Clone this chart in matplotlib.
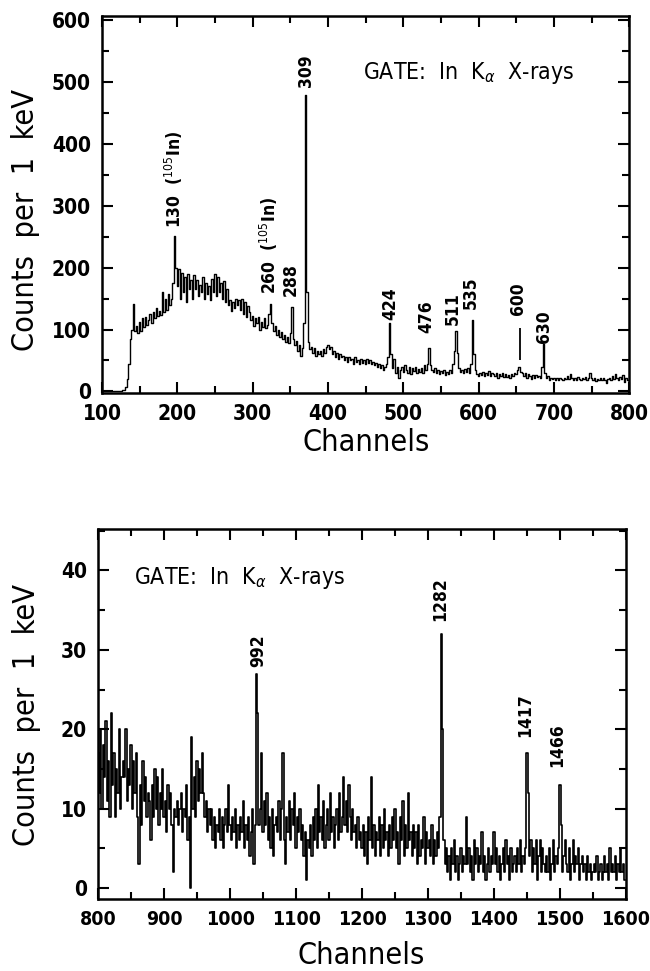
import numpy as np
import matplotlib
matplotlib.use('Agg')
import matplotlib.pyplot as plt
from matplotlib.ticker import MultipleLocator

plt.rcParams['font.family'] = ['DejaVu Sans']
plt.rcParams['font.stretch'] = 'condensed'
plt.rcParams['mathtext.fontset'] = 'dejavusans'

# ---- spectrum 1: channels 100..798 (2 ch per bin), In K-alpha gate
ch_top = np.arange(100, 800, 2)
cnt_top = [
    0, 0, 0, 0, 0, 1, 0, 0, 1, 0, 0, 1, 1, 1, 2, 3, 7, 20, 45, 85,                          # 100
    100, 142, 98, 105, 95, 112, 98, 118, 104, 120, 108, 115, 126, 110, 128, 118, 135, 122, 130, 124,  # 140
    160, 128, 150, 132, 158, 140, 150, 175, 252, 200, 170, 198, 150, 192, 160, 185, 145, 190, 165, 180,  # 180
    150, 188, 165, 180, 155, 172, 160, 185, 150, 175, 158, 170, 148, 182, 160, 190, 155, 185, 160, 175,  # 220
    150, 178, 145, 165, 140, 148, 130, 145, 135, 150, 140, 148, 132, 150, 125, 145, 120, 138, 128, 115,  # 260
    122, 105, 118, 110, 120, 100, 112, 104, 118, 102, 108, 125, 142, 110, 98, 105, 92, 100, 88, 96,      # 300
    85, 92, 80, 88, 78, 95, 136, 85, 75, 82, 65, 75, 58, 70, 110, 480, 160, 80, 68, 72,                  # 340
    62, 70, 58, 66, 60, 65, 58, 68, 62, 72, 75, 68, 72, 60, 65, 55, 62, 52, 60, 55,                      # 380
    58, 50, 56, 48, 55, 50, 52, 45, 55, 48, 50, 45, 52, 46, 50, 44, 52, 46, 50, 44,                      # 420
    48, 42, 46, 40, 45, 38, 42, 35, 40, 45, 55, 110, 60, 38, 52, 30, 40, 22, 35, 40,                     # 460
    32, 42, 35, 30, 40, 28, 38, 33, 40, 30, 36, 32, 38, 30, 42, 35, 45, 70, 42, 35,                      # 500
    32, 38, 30, 35, 28, 33, 30, 35, 26, 32, 28, 34, 30, 45, 65, 97, 62, 38, 32, 35,                      # 540
    30, 36, 32, 38, 30, 45, 115, 60, 35, 28, 25, 30, 26, 32, 25, 30, 27, 33, 25, 30,                     # 580
    28, 25, 30, 22, 28, 25, 30, 24, 28, 23, 27, 22, 28, 25, 30, 28, 35, 40, 32, 30,                      # 620
    25, 30, 22, 28, 25, 20, 26, 22, 27, 23, 25, 22, 40, 77, 30, 22, 25, 18, 22, 20,                      # 660
    22, 18, 21, 19, 22, 20, 18, 22, 20, 25, 20, 28, 21, 18, 22, 19, 23, 20, 18, 22,                      # 700
    20, 24, 19, 21, 30, 22, 18, 21, 17, 20, 19, 22, 18, 21, 19, 14, 20, 22, 18, 25,                      # 740
    20, 28, 22, 18, 24, 20, 26, 16, 22, 18,                                                              # 780
]

# ---- spectrum 2: channels 800..1598 (2 ch per bin)
ch_bot = np.arange(800, 1600, 2)
cnt_bot = [
    17, 12, 20, 10, 18, 14, 21, 11, 16, 9, 22, 13, 17, 9, 15, 12, 20, 10, 14, 16,      # 800
    14, 20, 11, 15, 13, 18, 10, 16, 12, 17, 9, 3, 13, 8, 16, 11, 14, 9, 12, 11,        # 840
    6, 13, 9, 15, 10, 14, 8, 12, 10, 15, 9, 11, 7, 13, 10, 12, 8, 2, 10, 9,            # 880
    11, 8, 10, 12, 7, 10, 9, 13, 6, 9, 0, 19, 10, 14, 9, 16, 11, 15, 12, 17,           # 920
    12, 9, 11, 7, 10, 8, 10, 6, 9, 5, 8, 7, 10, 6, 9, 5, 8, 10, 7, 13,                 # 960
    8, 6, 9, 7, 10, 5, 8, 6, 9, 7, 11, 5, 8, 6, 9, 4, 7, 10, 3, 8,                     # 1000
    27, 22, 8, 10, 17, 7, 11, 8, 12, 6, 9, 5, 10, 4, 8, 9, 7, 11, 6, 10,               # 1040
    17, 6, 3, 9, 7, 11, 6, 10, 8, 12, 5, 9, 7, 10, 6, 8, 4, 7, 1, 6,                   # 1080
    5, 8, 4, 9, 6, 10, 5, 13, 7, 9, 6, 11, 5, 8, 10, 6, 12, 7, 9, 5,                   # 1120
    8, 10, 6, 12, 7, 9, 14, 8, 11, 7, 13, 9, 6, 10, 7, 8, 5, 9, 6, 7,                  # 1160
    5, 8, 4, 7, 3, 9, 6, 14, 5, 8, 4, 7, 6, 9, 4, 8, 5, 10, 6, 7,                      # 1200
    4, 8, 5, 9, 6, 10, 5, 7, 3, 9, 6, 11, 4, 8, 5, 12, 6, 7, 4, 8,                     # 1240
    5, 7, 3, 8, 4, 6, 5, 9, 3, 7, 5, 6, 4, 8, 3, 6, 4, 7, 5, 9,                        # 1280
    32, 20, 6, 3, 5, 2, 4, 1, 5, 3, 6, 2, 4, 1, 3, 5, 2, 4, 3, 9,                      # 1320
    3, 5, 2, 4, 1, 6, 3, 5, 2, 4, 3, 7, 2, 4, 1, 3, 5, 2, 4, 3,                        # 1360
    7, 3, 5, 2, 4, 1, 3, 5, 2, 6, 3, 4, 1, 5, 2, 3, 4, 2, 5, 3,                        # 1400
    6, 2, 4, 3, 5, 17, 12, 4, 6, 2, 5, 3, 6, 1, 4, 6, 2, 5, 3, 2,                      # 1440
    4, 2, 5, 1, 3, 6, 2, 4, 3, 5, 13, 8, 2, 4, 6, 3, 2, 5, 1, 3,                       # 1480
    6, 2, 4, 3, 5, 1, 3, 4, 2, 3, 1, 4, 2, 3, 1, 2, 3, 2, 4, 1,                        # 1520
    2, 3, 1, 2, 4, 2, 3, 1, 5, 2, 3, 2, 4, 1, 3, 2, 5, 2, 3, 1,                        # 1560
]

# peak labels: (text, channel, counts at label foot)
labels_top = [
    (r"130  ($^{105}$In)", 196, 265),
    (r"260  ($^{105}$In)", 322, 158),
    ("288", 350, 155),
    ("309", 371, 493),
    ("424", 483, 115),
    ("476", 531, 94),
    ("511", 566, 107),
    ("535", 590, 134),
    ("600", 652, 123),
    ("630", 687, 78),
]
labels_bot = [
    ("992", 1042, 27.9),
    ("1282", 1319, 33.6),
    ("1417", 1447, 19.0),
    ("1466", 1496, 15.3),
]
mark_600 = (655, 50, 103)  # channel, from, to

gate_txt = r"GATE:  In  K$_{\alpha}$  X-rays"


def style_axes(ax, xmaj, xmin, ymaj, ymin, xsize=15):
    ax.xaxis.set_major_locator(MultipleLocator(xmaj))
    ax.xaxis.set_minor_locator(MultipleLocator(xmin))
    ax.yaxis.set_major_locator(MultipleLocator(ymaj))
    ax.yaxis.set_minor_locator(MultipleLocator(ymin))
    ax.tick_params(which='both', direction='in', top=True, right=True, width=1.5)
    ax.tick_params(which='major', length=8, labelsize=15, pad=8)
    ax.tick_params(axis='x', which='major', labelsize=xsize)
    ax.tick_params(which='minor', length=5)
    for lab in ax.get_xticklabels() + ax.get_yticklabels():
        lab.set_fontweight('bold')
    for s in ax.spines.values():
        s.set_linewidth(1.8)


fig = plt.figure(figsize=(6.5, 9.71), dpi=100)

# top panel
ax1 = fig.add_axes([0.157, 0.595, 0.811, 0.389])
ax1.step(ch_top, cnt_top, where='mid', color='black', lw=1.0)
ax1.vlines(mark_600[0], mark_600[1], mark_600[2], color='black', lw=1.3)
ax1.set_xlim(100, 800)
ax1.set_ylim(-3, 608)
style_axes(ax1, 100, 50, 100, 50)
for txt, x, y in labels_top:
    ax1.text(x, y, txt, rotation=90, ha='center', va='bottom', fontsize=12.5, fontweight='bold')
ax1.text(446, 515, gate_txt, ha='left', va='center', fontsize=16.5)
ax1.set_xlabel("Channels", fontsize=22)
ax1.set_ylabel("Counts  per  1  keV", fontsize=22)
ax1.xaxis.set_label_coords(0.502, -0.093)
ax1.yaxis.set_label_coords(-0.117, 0.458)

# bottom panel
ax2 = fig.add_axes([0.151, 0.074, 0.812, 0.381])
ax2.step(ch_bot, cnt_bot, where='mid', color='black', lw=1.2)
ax2.set_xlim(800, 1600)
ax2.set_ylim(-1.4, 45.2)
style_axes(ax2, 100, 50, 10, 5, xsize=14)
for txt, x, y in labels_bot:
    ax2.text(x, y, txt, rotation=90, ha='center', va='bottom', fontsize=12.5, fontweight='bold')
ax2.text(854, 39, gate_txt, ha='left', va='center', fontsize=16.5)
ax2.set_xlabel("Channels", fontsize=22)
ax2.set_ylabel("Counts  per  1  keV", fontsize=22)
ax2.xaxis.set_label_coords(0.499, -0.114)
ax2.yaxis.set_label_coords(-0.108, 0.497)

fig.savefig('out.png', dpi=100)
